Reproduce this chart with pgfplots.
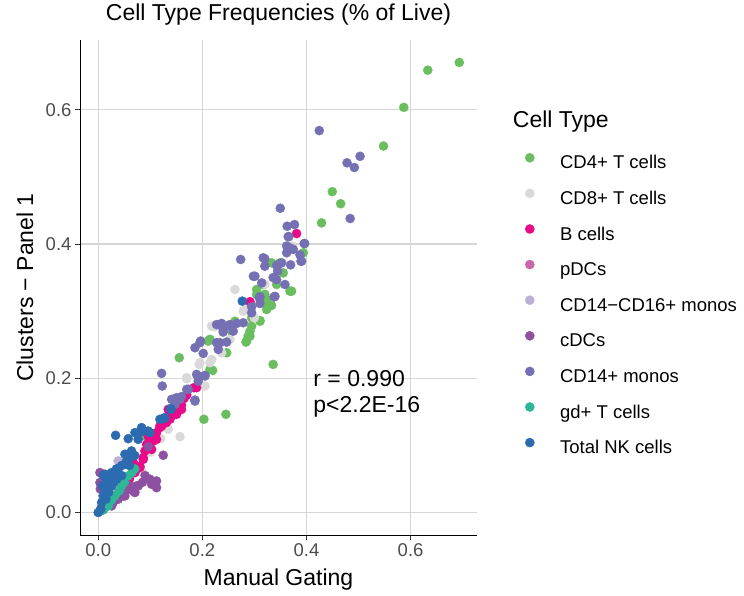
\documentclass[border=0pt]{standalone}
\usepackage{pgfplots}
\pgfplotsset{compat=1.18}
\usepackage{fontspec}
\setmainfont{Liberation Sans}
\newcommand\ftitle{\fontsize{23}{27}\selectfont}
\newcommand\ftick{\fontsize{18.5}{22}\selectfont}
\definecolor{cdfour}{RGB}{106,190,95}
\definecolor{cdeight}{RGB}{217,217,217}
\definecolor{bcell}{RGB}{232,10,137}
\definecolor{pdc}{RGB}{201,103,168}
\definecolor{lav}{RGB}{188,175,214}
\definecolor{cdc}{RGB}{142,80,160}
\definecolor{mono}{RGB}{117,112,179}
\definecolor{gdt}{RGB}{45,183,150}
\definecolor{nk}{RGB}{44,107,176}
\definecolor{gridc}{RGB}{214,214,214}
\definecolor{tickc}{RGB}{77,77,77}
\definecolor{tickm}{RGB}{51,51,51}

\pgfplotstableread{
x y
0.6936 0.6705
0.633 0.659
0.587 0.6036
0.548 0.546
0.4496 0.478
0.4657 0.46
0.429 0.4315
0.394 0.387
0.3683 0.3298
0.333 0.3085
0.3235 0.3025
0.3107 0.286
0.2947 0.2777
0.288 0.2628
0.2838 0.2539
0.3043 0.3323
0.3235 0.3174
0.333 0.372
0.1557 0.2306
0.2113 0.2554
0.2467 0.238
0.2915 0.270
0.2198 0.2117
0.203 0.1389
0.2453 0.1463
0.336 0.2207
0.285 0.2554
0.2146 0.2132
0.0897 0.114
0.3554 0.357
0.320 0.325
0.3266 0.3074
0.3107 0.285
0.2915 0.2628
0.2626 0.285
0.2563 0.270
0.2146 0.258
0.3043 0.325
0.349 0.372
0.3427 0.3397
0.2947 0.290
0.317 0.3397
0.3715 0.3298
}\cdfourdata

\pgfplotstableread{
x y
0.2626 0.3323
0.2242 0.2768
0.2786 0.300
0.253 0.258
0.1954 0.2232
0.2146 0.2232
0.1698 0.2009
0.205 0.1884
0.2178 0.2777
0.237 0.238
0.194 0.2207
0.218 0.228
0.17 0.1994
0.157 0.113
0.080 0.062
0.0834 0.062
0.1345 0.124
0.285 0.3025
0.373 0.397
0.30 0.29
0.32 0.34
0.10 0.09
0.05 0.05
0.03 0.03
0.12 0.11
}\cdeightdata

\pgfplotstableread{
x y
0.381 0.4156
0.2915 0.314
0.1839 0.186
0.1345 0.1537
0.1506 0.1463
0.1378 0.1389
0.1218 0.1289
0.1185 0.129
0.112 0.119
0.096 0.114
0.093 0.1016
0.0897 0.0917
0.0865 0.0818
0.080 0.0693
0.0705 0.0595
0.131 0.134
0.141 0.1437
0.1474 0.1537
0.1378 0.151
0.189 0.186
0.160 0.1537
0.1185 0.1265
0.112 0.109
0.1026 0.094
0.0865 0.0793
0.080 0.067
0.0673 0.0744
0.17 0.175
0.165 0.17
0.125 0.14
0.105 0.106
0.16 0.16
0.06 0.05
0.05 0.045
}\bcelldata

\pgfplotstableread{
x y
0.005 0.006
0.010 0.008
0.003 0.002
0.008 0.010
0.006 0.003
}\pdcdata

\pgfplotstableread{
x y
0.0384 0.0768
0.020 0.030
0.030 0.040
0.015 0.020
0.025 0.035
0.010 0.015
0.045 0.050
}\lavdata

\pgfplotstableread{
x y
0.1249 0.0853
0.0993 0.0496
0.112 0.047
0.1026 0.0421
0.0768 0.0396
0.0705 0.0298
0.0513 0.0247
0.0384 0.0198
0.0257 0.0098
0.0033 0.0595
0.096 0.098
0.112 0.037
0.0737 0.0396
0.048 0.0247
0.0288 0.0149
0.0033 0.0446
0.06 0.04
0.085 0.045
0.065 0.033
0.04 0.03
0.02 0.012
0.01 0.005
0.055 0.035
0.09 0.055
0.004 0.035
}\cdcdata

\pgfplotstableread{
x y
0.4246 0.569
0.503 0.5307
0.478 0.521
0.492 0.514
0.484 0.438
0.3497 0.4533
0.363 0.4265
0.377 0.429
0.366 0.411
0.3965 0.4007
0.365 0.411
0.362 0.397
0.3747 0.392
0.362 0.387
0.3875 0.384
0.3894 0.3744
0.3696 0.369
0.3523 0.372
0.3427 0.368
0.32 0.378
0.32 0.367
0.3446 0.3596
0.336 0.35
0.3427 0.347
0.314 0.342
0.298 0.352
0.3587 0.3397
0.338 0.3214
0.3107 0.3214
0.3107 0.3114
0.2947 0.3065
0.2947 0.2976
0.2736 0.377
0.237 0.2817
0.253 0.280
0.266 0.2817
0.2786 0.2827
0.240 0.2688
0.2594 0.2702
0.1967 0.2554
0.1858 0.2455
0.2017 0.237
0.2274 0.253
0.2306 0.243
0.2467 0.2539
0.1218 0.2073
0.123 0.1884
0.189 0.2058
0.1921 0.1958
0.205 0.2033
0.1729 0.1835
0.1506 0.1711
0.144 0.1686
0.160 0.1726
0.1858 0.1676
0.2274 0.280
0.240 0.2728
0.256 0.2777
0.2338 0.253
0.1954 0.253
0.141 0.1686
0.157 0.1686
0.17 0.1835
0.1858 0.166
0.192 0.2033
0.205 0.2043
0.1474 0.161
0.317 0.3795
0.3458 0.3695
0.3907 0.3744
0.3958 0.4007
0.3683 0.3943
0.301 0.352
0.3395 0.322
0.3094 0.32
}\monodata

\pgfplotstableread{
x y
0.0192 0.0098
0.032 0.0247
0.045 0.0396
0.0577 0.0545
0.070 0.065
0.010 0.004
0.025 0.018
0.040 0.032
0.050 0.045
0.065 0.060
}\gdtdata

\pgfplotstableread{
x y
0.0334 0.115
0.0577 0.110
0.0705 0.119
0.082 0.120
0.096 0.1214
0.0768 0.109
0.1397 0.1537
0.128 0.1414
0.2767 0.3149
0.0834 0.1265
0.139 0.1548
0.1262 0.1399
0 0
0.0065 0.0149
0.0096 0.0247
0.0129 0.0347
0.016 0.0446
0.0129 0.057
0.0257 0.0595
0.0384 0.0644
0.0513 0.0719
0.061 0.0818
0.064 0.0917
0.0513 0.0868
0.0353 0.0496
0.0257 0.0396
0.0834 0.124
0.0993 0.119
0.1185 0.1389
0.02 0.03
0.03 0.045
0.04 0.055
0.045 0.07
0.005 0.005
0.015 0.02
0.022 0.05
0.035 0.065
0.07 0.085
0.055 0.078
0.008 0.04
0.01 0.055
0.02 0.045
0.045 0.055
0.06 0.07
}\nkdata

\begin{document}
\begin{tikzpicture}[x=1pt,y=1pt]
\useasboundingbox (0,0) rectangle (744,596);
\begin{axis}[
  at={(80pt,61pt)}, anchor=south west, scale only axis,
  width=397pt, height=495pt,
  xmin=-0.035, xmax=0.7276, ymin=-0.0335, ymax=0.704,
  axis lines*=left,
  axis line style={black, line width=0.9pt},
  xtick={0,0.2,0.4,0.6}, ytick={0,0.2,0.4,0.6},
  grid=major,
  major grid style={line width=1.3pt, color=gridc},
  tick align=outside, major tick length=5pt,
  tick style={color=tickm, line width=0.9pt},
  ticklabel style={font=\ftick, text=tickc},
  /pgf/number format/fixed,
  /pgf/number format/fixed zerofill,
  /pgf/number format/precision=1,
  /pgf/number format/assume math mode=true,
  legend style={at={(1.1209,0.7717)}, anchor=north west, draw=none, fill=none,
    font=\ftick, inner sep=0pt, row sep=15.5pt, column sep=25.7pt,
    nodes={inner sep=0pt, text height=13.5pt, text depth=4.5pt}},
  legend cell align=left,
  legend image code/.code={\draw[#1,mark repeat=2,mark phase=2] plot coordinates {(0pt,6.5pt) (5pt,6.5pt) (10pt,6.5pt)};},
  every axis plot/.append style={only marks, mark=*, mark size=4.6pt, line width=0.3pt},
]
\addplot[color=cdfour, mark options={fill=cdfour}] table {\cdfourdata};
\addlegendentry{CD4+ T cells}
\addplot[color=cdeight, mark options={fill=cdeight}] table {\cdeightdata};
\addlegendentry{CD8+ T cells}
\addplot[color=bcell, mark options={fill=bcell}] table {\bcelldata};
\addlegendentry{B cells}
\addplot[color=pdc, mark options={fill=pdc}] table {\pdcdata};
\addlegendentry{pDCs}
\addplot[color=lav, mark options={fill=lav}] table {\lavdata};
\addlegendentry{CD14−CD16+ monos}
\addplot[color=cdc, mark options={fill=cdc}] table {\cdcdata};
\addlegendentry{cDCs}
\addplot[color=mono, mark options={fill=mono}] table {\monodata};
\addlegendentry{CD14+ monos}
\addplot[color=gdt, mark options={fill=gdt}] table {\gdtdata};
\addlegendentry{gd+ T cells}
\addplot[color=nk, mark options={fill=nk}] table {\nkdata};
\addlegendentry{Total NK cells}
\node[anchor=base west, font=\ftitle, inner sep=0pt] at (axis cs:0.413,0.188) {r = 0.990};
\node[anchor=base west, font=\ftitle, inner sep=0pt] at (axis cs:0.413,0.149) {p<2.2E-16};
\end{axis}
\node[anchor=base, font=\ftitle, inner sep=0pt] at (278.5,575) {Cell Type Frequencies (\% of Live)};
\node[anchor=base, font=\ftitle, inner sep=0pt] at (278.5,10.3) {Manual Gating};
\node[anchor=base, rotate=90, font=\ftitle, inner sep=0pt] at (33,308.5) {Clusters − Panel 1};
\node[anchor=base west, font=\ftitle, inner sep=0pt] at (512.7,468.7) {Cell Type};
\end{tikzpicture}
\end{document}
